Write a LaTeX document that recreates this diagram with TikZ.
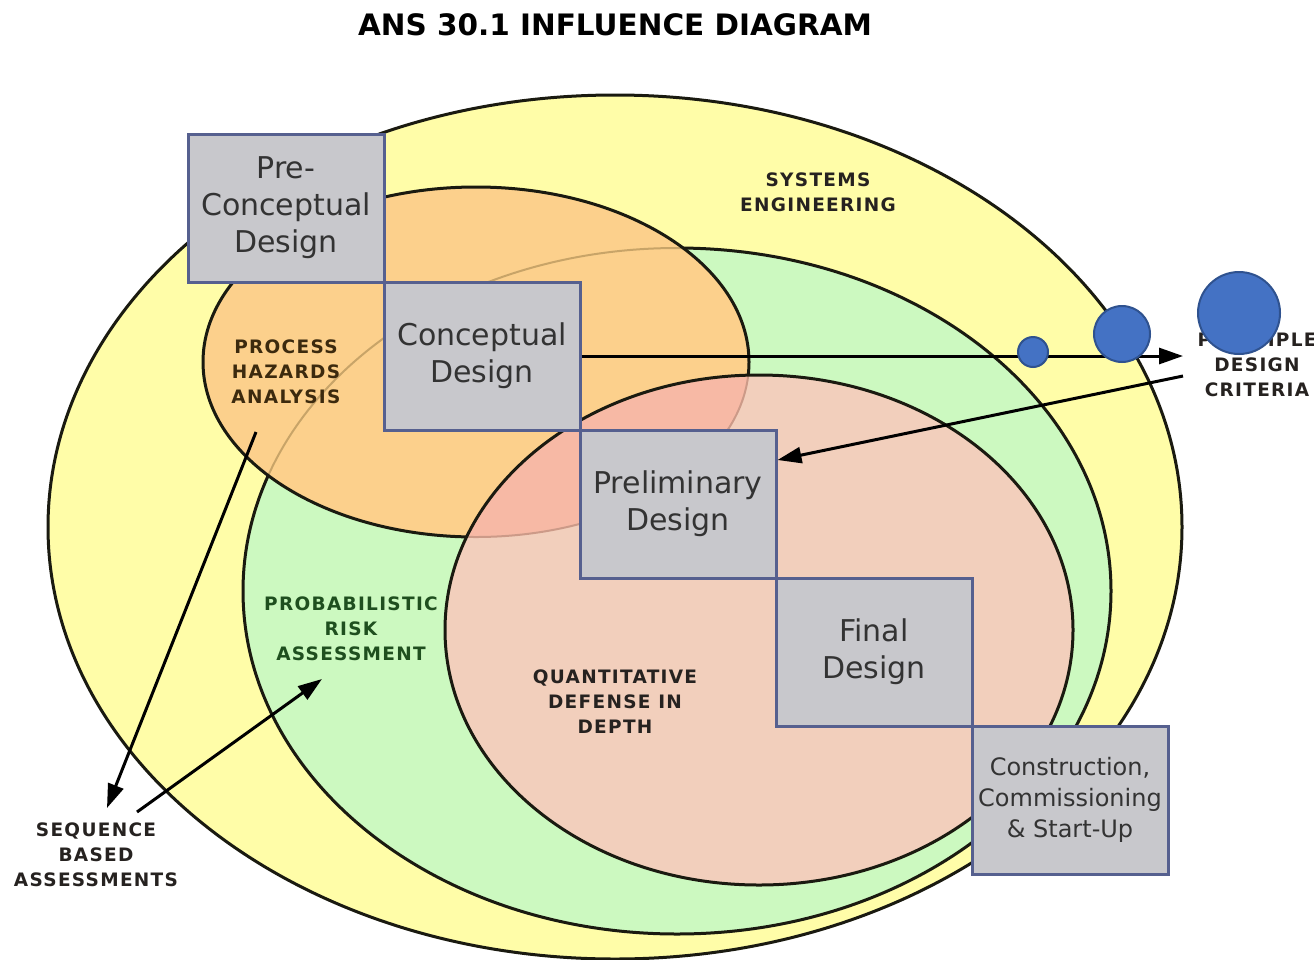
\documentclass[tikz,border=0pt]{standalone}
\usepackage{fontspec}
\setmainfont{DejaVu Sans}
\newfontfamily\labfont[LetterSpace=7]{DejaVu Sans}
\usetikzlibrary{arrows.meta}

\definecolor{seYellow}{HTML}{FFFDA8}
\definecolor{praGreen}{HTML}{CCF9C0}
\definecolor{phaOrange}{HTML}{FCD08C}
\definecolor{qddPink}{HTML}{F2CFBC}
\definecolor{overlapSalmon}{HTML}{F7B9A5}
\definecolor{edgeDark}{HTML}{1A1A10}
\definecolor{ghostGreen}{HTML}{C8A468}
\definecolor{ghostOrange}{HTML}{CC9A88}
\definecolor{boxFill}{HTML}{C8C8CC}
\definecolor{boxEdge}{HTML}{56608F}
\definecolor{boxText}{HTML}{333333}
\definecolor{dotFill}{HTML}{4472C4}
\definecolor{dotEdge}{HTML}{2F528F}
\definecolor{phaText}{HTML}{3C2A0E}
\definecolor{praText}{HTML}{1F4F1F}
\definecolor{darkText}{HTML}{262220}

\begin{document}
\begin{tikzpicture}[x=1pt,y=-1pt,
  outline/.style={draw=edgeDark, line width=3pt},
  phase/.style={draw=boxEdge, line width=3pt, fill=boxFill,
    minimum width=196pt, minimum height=148pt, inner sep=0pt,
    align=center, text=boxText, font=\fontsize{30}{37}\selectfont},
  tag/.style={align=center, inner sep=0pt,
    font=\labfont\bfseries\fontsize{18.5}{25}\selectfont},
  link/.style={draw=black, line width=3pt,
    -{Triangle[length=24pt,width=16pt]}},
  dot/.style={circle, fill=dotFill, draw=dotEdge, line width=2pt, inner sep=0pt}
]
% canvas
\fill[white] (0,0) rectangle (1314,959);
\useasboundingbox (0,0) rectangle (1314,959);

% title
\node[font=\bfseries\fontsize{29.5}{34}\selectfont, text=black] (title) at (615,25) {ANS 30.1 INFLUENCE DIAGRAM};

% systems engineering (outer)
\path[fill=seYellow, outline] (615,527) ellipse [x radius=567pt, y radius=432pt];
% probabilistic risk assessment
\path[fill=praGreen, outline] (677,591) ellipse [x radius=434pt, y radius=343pt];
% process hazards analysis
\fill[phaOrange] (476,362) ellipse [x radius=273pt, y radius=175pt];
\begin{scope}
  \clip (476,362) ellipse [x radius=273pt, y radius=175pt];
  \draw[ghostGreen, line width=2pt] (677,591) ellipse [x radius=434pt, y radius=343pt];
\end{scope}
\draw[outline] (476,362) ellipse [x radius=273pt, y radius=175pt];
% quantitative defense in depth
\fill[qddPink] (759,630) ellipse [x radius=314pt, y radius=255pt];
\begin{scope}
  \clip (759,630) ellipse [x radius=314pt, y radius=255pt];
  \fill[overlapSalmon] (476,362) ellipse [x radius=273pt, y radius=175pt];
  \draw[ghostOrange, line width=2pt] (476,362) ellipse [x radius=273pt, y radius=175pt];
\end{scope}
\draw[outline] (759,630) ellipse [x radius=314pt, y radius=255pt];

% region labels
\node[tag, text=darkText] (se) at (818,192) {SYSTEMS\\ENGINEERING};
\node[tag, text=phaText] (pha) at (286,372) {PROCESS\\HAZARDS\\ANALYSIS};
\node[tag, text=praText] (pra) at (351,629) {PROBABILISTIC\\RISK\\ASSESSMENT};
\node[tag, text=darkText] (qdd) at (615,702) {QUANTITATIVE\\DEFENSE IN\\DEPTH};
\node[tag, text=darkText] (seq) at (96,855) {SEQUENCE\\BASED\\ASSESSMENTS};

% connector end points near the labels
\coordinate (phaTail) at (256,432);
\coordinate (seqHead) at (107,808);
\coordinate (seqTail) at (137,812);
\coordinate (praHead) at (322,679);
\coordinate (pdcIn) at (1183,356);
\coordinate (pdcOut) at (1183,376);

\draw[link] (phaTail) -- (seqHead);
\draw[link] (seqTail) -- (praHead);

% design phases
\node[phase] (p1) at (286,208) {Pre-\\Conceptual\\Design};
\node[phase] (p2) at (482,356) {Conceptual\\Design};
\node[phase] (p3) at (678,504) {Preliminary\\Design};
\node[phase] (p4) at (874,652) {Final\\Design};
\node[phase, font=\fontsize{24}{31}\selectfont] (p5) at (1070,800) {Construction,\\Commissioning\\\& Start-Up};

\draw[link] (p2.east) -- (pdcIn);
\draw[link] (pdcOut) -- ([yshift=44pt]p3.east);

% design criteria label and markers
\node[tag, text=darkText] (pdc) at (1257,365) {PRINCIPLE\\DESIGN\\CRITERIA};
\node[dot, minimum size=30pt] (d1) at (1033,352) {};
\node[dot, minimum size=56pt] (d2) at (1122,334) {};
\node[dot, minimum size=82pt] (d3) at (1239,313) {};
\end{tikzpicture}
\end{document}
